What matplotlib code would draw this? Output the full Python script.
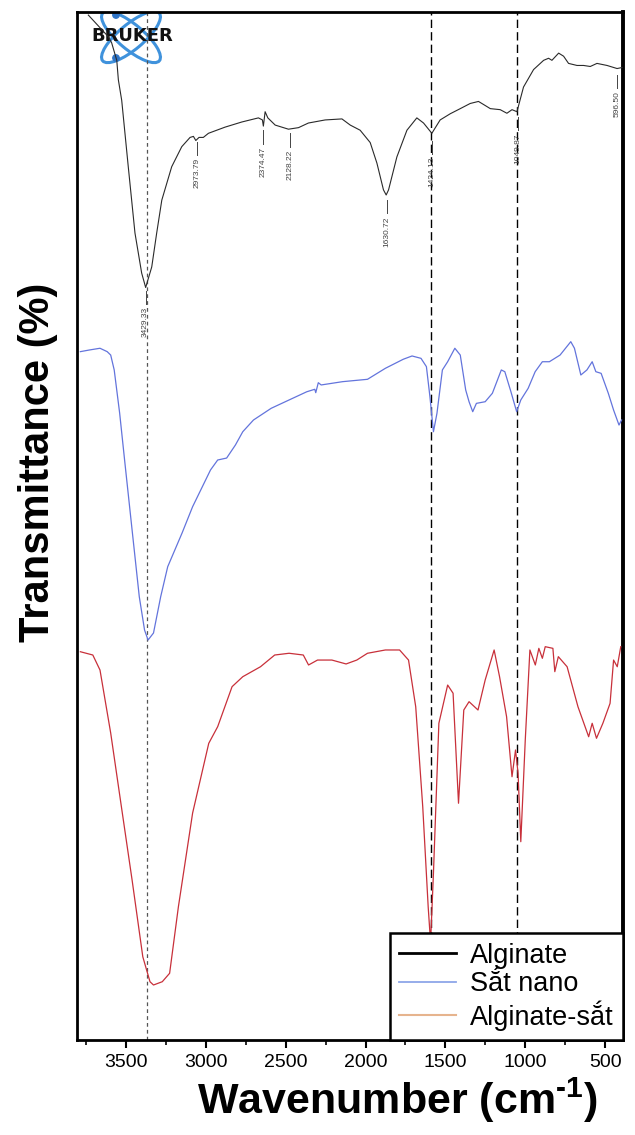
import matplotlib
matplotlib.use('Agg')
import matplotlib.pyplot as plt
from matplotlib.lines import Line2D
from matplotlib.patches import Ellipse, Circle
import matplotlib.transforms as mtransforms
from matplotlib.ticker import MultipleLocator

# ---------------- data ----------------
alg_wn = [3736, 3611, 3590, 3558, 3548, 3527, 3486, 3444, 3402, 3377, 3339, 3308, 3276, 3214, 3151, 3099,
          3078, 3063, 3043, 3016, 2984, 2880, 2775, 2671, 2646, 2640, 2629, 2612, 2566, 2483, 2420, 2358,
          2253, 2148, 2096, 2034, 1971, 1929, 1888, 1871, 1856, 1804, 1741, 1679, 1637, 1585, 1533, 1470,
          1407, 1345, 1293, 1261, 1219, 1157, 1115, 1083, 1052, 1011, 948, 885, 854, 833, 791, 760, 729,
          676, 635, 593, 551, 488, 425, 394]
alg_T = [99.7, 97.6, 97.0, 95.3, 93.4, 91.4, 84.95, 78.5, 74.6, 73.2, 75.2, 78.5, 81.7, 84.95, 86.9, 87.8,
         87.9, 87.5, 87.8, 87.8, 88.2, 88.8, 89.3, 89.7, 89.5, 88.9, 90.3, 89.7, 89.0, 88.6, 88.75, 89.2,
         89.5, 89.6, 89.0, 88.5, 87.3, 85.3, 82.7, 82.2, 82.7, 85.9, 88.5, 89.7, 89.2, 88.2, 89.5, 90.1,
         90.6, 91.1, 91.3, 91.0, 90.6, 90.5, 90.15, 90.5, 90.3, 92.7, 94.4, 95.3, 95.5, 95.3, 96.0, 95.7, 95.0,
         94.8, 94.8, 94.7, 95.0, 94.8, 94.5, 94.6]

nano_wn = [3786, 3730, 3663, 3618, 3596, 3574, 3540, 3507, 3462, 3417, 3384, 3362, 3328, 3283, 3239, 3149,
           3083, 2971, 2926, 2870, 2815, 2769, 2702, 2591, 2479, 2368, 2318, 2312, 2296, 2278, 2144, 1988,
           1876, 1764, 1709, 1653, 1619, 1597, 1575, 1553, 1519, 1486, 1441, 1407, 1373, 1352, 1329, 1306,
           1251, 1206, 1150, 1128, 1090, 1054, 1028, 982, 938, 893, 849, 782, 748, 715, 692, 652, 614, 581,
           558, 525, 480, 447, 413, 397]
nano_T = [66.96, 67.12, 67.29, 66.96, 66.63, 65.18, 60.99, 56.13, 49.61, 43.12, 39.88, 38.91, 39.59, 43.12,
          46.04, 49.32, 51.88, 55.45, 56.42, 56.61, 57.88, 59.17, 60.31, 61.45, 62.26, 63.06, 63.30, 62.97,
          63.94, 63.72, 64.04, 64.27, 65.34, 66.22, 66.54, 66.31, 65.50, 62.58, 59.17, 60.96, 65.18, 65.98,
          67.29, 66.63, 63.23, 62.09, 61.12, 61.93, 62.09, 62.91, 65.18, 65.01, 63.07, 61.12, 62.26, 63.39,
          65.01, 65.98, 65.98, 66.63, 67.29, 67.93, 67.29, 64.69, 65.18, 65.98, 65.01, 64.85, 62.91, 61.28,
          59.82, 60.31]

comp_wn = [3786, 3708, 3663, 3596, 3529, 3462, 3395, 3350, 3328, 3273, 3227, 3172, 3083, 2982, 2926, 2836,
           2769, 2658, 2569, 2479, 2390, 2357, 2301, 2211, 2122, 2055, 1988, 1876, 1787, 1731, 1686, 1642,
           1608, 1593, 1575, 1541, 1486, 1452, 1418, 1385, 1352, 1296, 1251, 1195, 1161, 1117, 1083, 1061,
           1045, 1028, 1000, 971, 937, 915, 893, 875, 827, 815, 793, 738, 670, 603, 581, 554, 514, 469, 447,
           424, 402]
comp_T = [37.77, 37.45, 35.99, 29.86, 22.69, 15.56, 8.10, 5.67, 5.35, 5.67, 6.49, 12.97, 22.08, 28.86, 30.48,
          34.37, 35.34, 36.31, 37.45, 37.62, 37.45, 36.48, 36.96, 36.96, 36.58, 36.96, 37.62, 37.94, 37.94,
          36.96, 32.42, 22.69, 12.97, 9.5, 16.22, 30.81, 34.53, 33.73, 23.03, 32.10, 32.91, 32.10, 35.02,
          37.94, 35.34, 31.45, 25.61, 28.21, 25.94, 19.29, 29.18, 37.94, 36.48, 38.10, 37.13, 38.26, 38.10,
          35.83, 37.29, 36.31, 32.42, 29.50, 30.81, 29.35, 30.81, 32.75, 36.96, 36.31, 38.26]

legend_labels = ['Alginate', 'Sắt nano', 'Alginate-sắt']

peak_labels = ['3429.33', '2973.79', '2374.47', '2128.22', '1630.72', '1424.13', '1049.87', '596.50']
peak_wn = [3377, 3057, 2640, 2472, 1867, 1585, 1048, 425]
peak_top = [72.9, 87.4, 88.5, 88.2, 81.7, 87.5, 89.8, 93.9]

ref_lines = [3368, 1589, 1050]

xticks = [3500, 3000, 2500, 2000, 1500, 1000, 500]

# ---------------- figure ----------------
plt.rcParams['font.family'] = ['Liberation Sans', 'DejaVu Sans']
plt.rcParams['mathtext.fontset'] = 'custom'
plt.rcParams['mathtext.rm'] = 'Liberation Sans:bold'
plt.rcParams['mathtext.it'] = 'Liberation Sans:bold'
plt.rcParams['mathtext.bf'] = 'Liberation Sans:bold'

W, H = 635, 1135
fig = plt.figure(figsize=(W / 100, H / 100), dpi=100)
ax = fig.add_axes([77 / W, 1 - 1040 / H, 546 / W, 1028 / H])
ax.set_xlim(3807, 388)
ax.set_ylim(0, 100)

# logo (drawn in image pixel coordinates)
logo_tr = mtransforms.Affine2D().scale(0.01, -0.01).translate(0, H / 100) + fig.dpi_scale_trans
for ang in (40, -40):
    e = Ellipse((131, 37), 74, 25, angle=ang, fill=False, edgecolor='#3f92dc', lw=2.2,
                transform=logo_tr, zorder=1)
    ax.add_patch(e)
for cy in (15, 58):
    ax.add_patch(Circle((116, cy), 3.2, color='#2f74c6', transform=logo_tr, zorder=1))
ax.text(132, 36, 'BRUKER', transform=logo_tr, ha='center', va='center', fontsize=13,
        fontweight='bold', family='DejaVu Sans', color='#111111', zorder=1)

# spectra
ax.plot(alg_wn, alg_T, color='#2a2a2a', lw=0.8, zorder=3)
ax.plot(nano_wn, nano_T, color='#6374dc', lw=0.9, zorder=3)
ax.plot(comp_wn, comp_T, color='#c8303a', lw=0.9, zorder=3)

# reference dashed lines
ax.axvline(ref_lines[0], color='#555555', lw=0.9, dashes=(3, 2.5), zorder=2)
for x in ref_lines[1:]:
    ax.axvline(x, color='black', lw=1.0, dashes=(6, 3), zorder=2)

# peak annotations
for lab, x, yt in zip(peak_labels, peak_wn, peak_top):
    ax.plot([x, x], [yt, yt - 1.3], color='#444444', lw=0.7, zorder=3)
    ax.text(x, yt - 1.6, lab, rotation=90, ha='center', va='top', fontsize=6,
            color='#444444', zorder=3)

# axes styling
ax.set_yticks([])
ax.xaxis.set_minor_locator(MultipleLocator(250))
ax.set_xticks(xticks)
ax.set_xticklabels([str(t) for t in xticks])
ax.tick_params(axis='x', which='major', direction='out', length=6, width=1.5, labelsize=14, pad=4)
ax.tick_params(axis='x', which='minor', direction='out', length=3.5, width=1.2)
for s in ['left', 'bottom', 'top']:
    ax.spines[s].set_linewidth(2.0)
ax.spines['right'].set_linewidth(2.8)

# legend
handles = [Line2D([], [], color='black', lw=2.0),
           Line2D([], [], color='#8ea6e8', lw=1.3),
           Line2D([], [], color='#e6b48e', lw=1.5)]
leg = ax.legend(handles, legend_labels, loc='lower right', borderaxespad=0, fontsize=19.5,
                frameon=True, fancybox=False, edgecolor='black', framealpha=1,
                handlelength=2.1, handletextpad=0.5, labelspacing=0.1, borderpad=0.35)
leg.get_frame().set_linewidth(1.8)
leg.set_zorder(5)

# axis labels
fig.text(38 / W, 1 - 462 / H, 'Transmittance (%)', rotation=90, ha='center', va='center',
         fontsize=30, fontweight='bold')
fig.text(397 / W, 1 - 1100 / H, 'Wavenumber (cm$^{\u2010' + '1}$)', ha='center', va='center',
         fontsize=31, fontweight='bold')

fig.savefig('out.png', dpi=100)
